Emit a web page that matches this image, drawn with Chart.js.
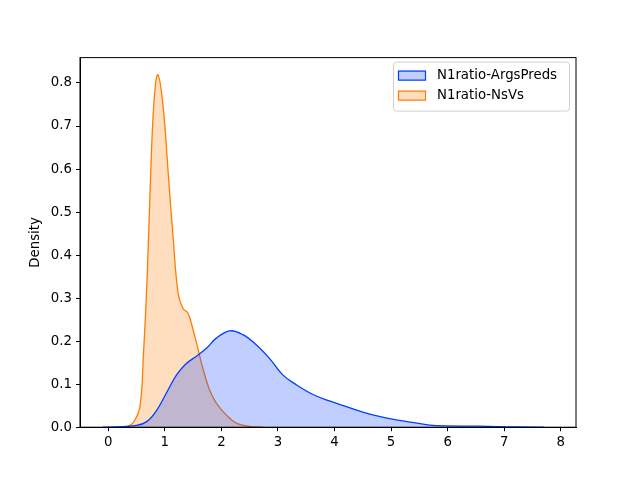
<!DOCTYPE html>
<html>
<head>
<meta charset="utf-8">
<script src="https://cdn.jsdelivr.net/npm/chart.js@4.4.0/dist/chart.umd.min.js"></script>
<style>
  html, body { margin: 0; padding: 0; background: #fff; }
  #wrap { width: 640px; height: 480px; }
</style>
</head>
<body>
<div id="wrap"><canvas id="kde"></canvas></div>
<script>
const seriesNames = ["N1ratio-ArgsPreds", "N1ratio-NsVs"];
const lineColors = ["#023eff", "#ff7c00"];
const fillColors = ["rgba(2,62,255,0.25)", "rgba(255,124,0,0.25)"];

// KDE curves
const argsX = [-0.1, 0.15, 0.5, 0.68, 0.85, 1.03, 1.21, 1.38, 1.56, 1.74, 1.91, 2.15, 2.38, 2.62, 2.85, 3.09, 3.32, 3.62, 3.91, 4.21, 4.5, 4.79, 5.09, 5.38, 5.68, 5.97, 6.56, 7.15, 7.7];
const argsY = [0, 0.0005, 0.004, 0.013, 0.038, 0.08, 0.122, 0.148, 0.165, 0.184, 0.207, 0.224, 0.215, 0.191, 0.16, 0.121, 0.099, 0.076, 0.061, 0.048, 0.035, 0.025, 0.017, 0.011, 0.005, 0.003, 0.0025, 0.0006, 0];
const nsvsX = [0.3, 0.35, 0.45, 0.56, 0.62, 0.69, 0.75, 0.81, 0.877, 0.97, 1.06, 1.15, 1.235, 1.32, 1.41, 1.5, 1.59, 1.68, 1.79, 1.91, 2.09, 2.27, 2.5, 2.73];
const nsvsY = [0, 0.002, 0.012, 0.048, 0.164, 0.358, 0.59, 0.76, 0.819, 0.745, 0.59, 0.435, 0.311, 0.276, 0.265, 0.226, 0.18, 0.133, 0.087, 0.056, 0.028, 0.009, 0.002, 0];

const xTicks = [0, 1, 2, 3, 4, 5, 6, 7, 8];
const yTicks = [0, 0.1, 0.2, 0.3, 0.4, 0.5, 0.6, 0.7, 0.8];

function toPoints(xs, ys) {
    return xs.map((x, i) => ({ x: x, y: ys[i] }));
}

const frame = {
    id: "frame",
    afterDraw(chart) {
        const ctx = chart.ctx;
        const a = chart.chartArea;
        ctx.save();
        ctx.strokeStyle = "#000";
        ctx.lineWidth = 1;
        ctx.strokeRect(a.left, a.top, a.right - a.left, a.bottom - a.top);

        // legend box in upper right
        const w = 176, h = 49;
        const lx = a.right - 7 - w, ly = a.top + 4;
        ctx.fillStyle = "rgba(255,255,255,0.8)";
        ctx.strokeStyle = "#d0d0d0";
        ctx.beginPath();
        ctx.roundRect(lx + 0.5, ly + 0.5, w, h, 3);
        ctx.fill();
        ctx.stroke();
        ctx.font = "13.3px 'DejaVu Sans'";
        ctx.textBaseline = "middle";
        seriesNames.forEach((name, i) => {
            const ry = ly + 14 + i * 20;
            ctx.fillStyle = "#fff";
            ctx.fillRect(lx + 5, ry - 5, 28, 10);
            ctx.fillStyle = fillColors[i];
            ctx.fillRect(lx + 5, ry - 5, 28, 10);
            ctx.strokeStyle = lineColors[i];
            ctx.lineWidth = 1.2;
            ctx.strokeRect(lx + 5.5, ry - 4.5, 27, 9);
            ctx.fillStyle = "#000";
            ctx.fillText(name, lx + 44, ry);
        });
        ctx.restore();
    }
};

const config = {
    type: "line",
    data: {
        datasets: [
            {
                label: seriesNames[0],
                data: toPoints(argsX, argsY),
                borderColor: lineColors[0],
                backgroundColor: fillColors[0],
                borderWidth: 1.3,
                fill: "origin",
                tension: 0.4,
                pointRadius: 0,
            },
            {
                label: seriesNames[1],
                data: toPoints(nsvsX, nsvsY),
                borderColor: lineColors[1],
                backgroundColor: fillColors[1],
                borderWidth: 1.3,
                fill: "origin",
                tension: 0.4,
                pointRadius: 0,
            },
        ],
    },
    options: {
        responsive: true,
        maintainAspectRatio: false,
        animation: false,
        layout: { padding: { top: 57.6, right: 64, left: 0, bottom: 0 } },
        plugins: {
            legend: { display: false },
            tooltip: { enabled: false },
        },
        scales: {
            x: {
                type: "linear",
                min: -0.5,
                max: 8.27,
                afterBuildTicks(scale) {
                    scale.ticks = xTicks.map(v => ({ value: v }));
                },
                afterFit(scale) { scale.height = 52.8; },
                grid: { drawOnChartArea: false, drawTicks: true, tickLength: 4, color: "#000" },
                border: { display: true, color: "#000" },
                ticks: { color: "#000", font: { family: "DejaVu Sans", size: 13.3 }, padding: 3, maxRotation: 0 },
            },
            y: {
                min: 0,
                max: 0.859,
                afterBuildTicks(scale) {
                    scale.ticks = yTicks.map(v => ({ value: v }));
                },
                afterFit(scale) { scale.width = 80; },
                grid: { drawOnChartArea: false, drawTicks: true, tickLength: 4, color: "#000" },
                border: { display: true, color: "#000" },
                ticks: {
                    color: "#000",
                    font: { family: "DejaVu Sans", size: 13.3 },
                    padding: 4,
                    callback: v => v.toFixed(1),
                },
                title: {
                    display: true,
                    text: "Density",
                    color: "#000",
                    font: { family: "DejaVu Sans", size: 13.3 },
                    padding: { top: 28, bottom: 4 },
                },
            },
        },
    },
    plugins: [frame],
};

new Chart(document.getElementById("kde"), config);
</script>
</body>
</html>
